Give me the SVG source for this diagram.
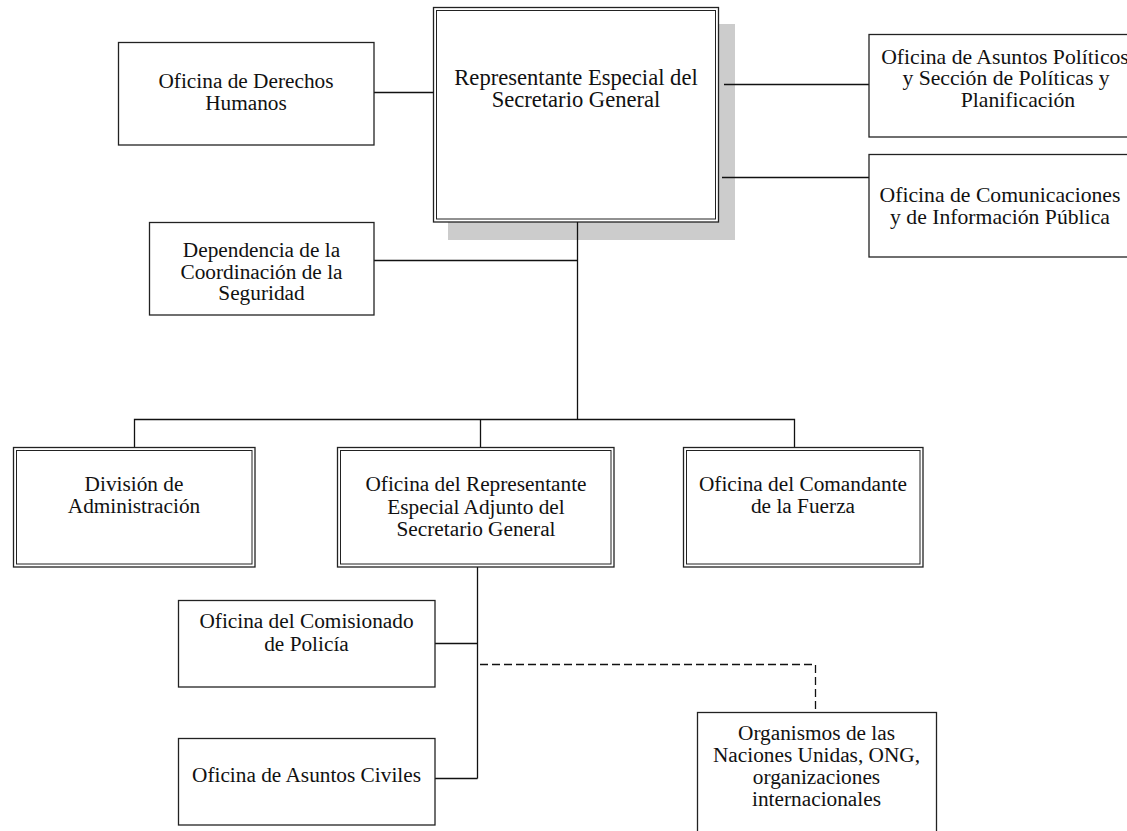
<svg xmlns="http://www.w3.org/2000/svg" width="1127" height="831" viewBox="0 0 1127 831">
<style>
  .box { fill: #ffffff; stroke: #222222; stroke-width: 1.3; }
  .inner { fill: none; stroke: #222222; stroke-width: 1; }
  .shadow { fill: #cccccc; stroke: none; }
  .conn { fill: none; stroke: #111111; stroke-width: 1.3; }
  .dash { fill: none; stroke: #111111; stroke-width: 1.3; stroke-dasharray: 8 4; }
  text { font-family: "Liberation Serif", "Times New Roman", serif; font-size: 21.3px; fill: #111111; text-anchor: middle; }
  .big { font-size: 22.6px; }
  .mid { font-size: 21.7px; }
</style>
<rect width="1127" height="831" fill="#ffffff"/>

<g id="node-rep-especial">
  <rect class="shadow" x="448" y="24" width="287" height="216"/>
  <rect class="box" x="433.5" y="7.5" width="285" height="214.5"/>
  <rect class="inner" x="436.5" y="10.5" width="279" height="208.5"/>
  <text class="big" x="576" y="85">Representante Especial del</text>
  <text class="big" x="576" y="107">Secretario General</text>
</g>

<g id="connectors">
  <line class="conn" x1="374" y1="92.5" x2="433.5" y2="92.5"/>
  <line class="conn" x1="724" y1="84.5" x2="869" y2="84.5"/>
  <line class="conn" x1="722" y1="177.5" x2="869" y2="177.5"/>
  <line class="conn" x1="577.5" y1="222" x2="577.5" y2="419.5"/>
  <line class="conn" x1="374" y1="260.5" x2="577.5" y2="260.5"/>
  <polyline class="conn" points="134.5,447 134.5,419.5 794.5,419.5 794.5,447"/>
  <line class="conn" x1="480.5" y1="419.5" x2="480.5" y2="447"/>
  <line class="conn" x1="477.5" y1="567" x2="477.5" y2="778.5"/>
  <line class="conn" x1="435" y1="643.5" x2="477.5" y2="643.5"/>
  <line class="conn" x1="435" y1="778.5" x2="477.5" y2="778.5"/>
  <polyline class="dash" points="480,664.5 815.5,664.5 815.5,712"/>
</g>

<g id="node-derechos-humanos">
  <rect class="box" x="118.5" y="42.5" width="255.5" height="102.5"/>
  <text x="246" y="88">Oficina de Derechos</text>
  <text x="246" y="109.5">Humanos</text>
</g>

<g id="node-coordinacion-seguridad">
  <rect class="box" x="149.5" y="222.5" width="224.5" height="92.5"/>
  <text x="261.5" y="257">Dependencia de la</text>
  <text x="261.5" y="278.5">Coordinación de la</text>
  <text x="261.5" y="299.5">Seguridad</text>
</g>

<g id="node-asuntos-politicos">
  <rect class="box" x="869" y="34.5" width="270" height="102.5"/>
  <text class="mid" x="1005" y="63.5">Oficina de Asuntos Políticos</text>
  <text class="mid" x="1006" y="85">y Sección de Políticas y</text>
  <text class="mid" x="1018" y="107">Planificación</text>
</g>

<g id="node-comunicaciones">
  <rect class="box" x="869" y="154.5" width="270" height="102.5"/>
  <text class="mid" x="1000" y="202">Oficina de Comunicaciones</text>
  <text class="mid" x="1000" y="224">y de Información Pública</text>
</g>

<g id="node-administracion">
  <rect class="box" x="13.5" y="447.5" width="241.5" height="119.5"/>
  <rect class="inner" x="16.5" y="450.5" width="235.5" height="113.5"/>
  <text x="134" y="490.5">División de</text>
  <text x="134" y="513">Administración</text>
</g>

<g id="node-adjunto">
  <rect class="box" x="337.5" y="447.5" width="276.5" height="119.5"/>
  <rect class="inner" x="340.5" y="450.5" width="270.5" height="113.5"/>
  <text x="476" y="491">Oficina del Representante</text>
  <text x="476" y="513.5">Especial Adjunto del</text>
  <text x="476" y="536">Secretario General</text>
</g>

<g id="node-comandante">
  <rect class="box" x="683.5" y="447.5" width="239.5" height="119.5"/>
  <rect class="inner" x="686.5" y="450.5" width="233.5" height="113.5"/>
  <text x="803" y="491">Oficina del Comandante</text>
  <text x="803" y="513">de la Fuerza</text>
</g>

<g id="node-policia">
  <rect class="box" x="178.5" y="600.5" width="256.5" height="86.5"/>
  <text x="306.5" y="628">Oficina del Comisionado</text>
  <text x="306.5" y="651">de Policía</text>
</g>

<g id="node-asuntos-civiles">
  <rect class="box" x="178.5" y="738.5" width="256.5" height="86.5"/>
  <text x="306.5" y="782">Oficina de Asuntos Civiles</text>
</g>

<g id="node-organismos">
  <rect class="box" x="697.5" y="712.5" width="239" height="130"/>
  <text x="816.5" y="740">Organismos de las</text>
  <text x="816.5" y="762">Naciones Unidas, ONG,</text>
  <text x="816.5" y="784">organizaciones</text>
  <text x="816.5" y="806">internacionales</text>
</g>
</svg>
